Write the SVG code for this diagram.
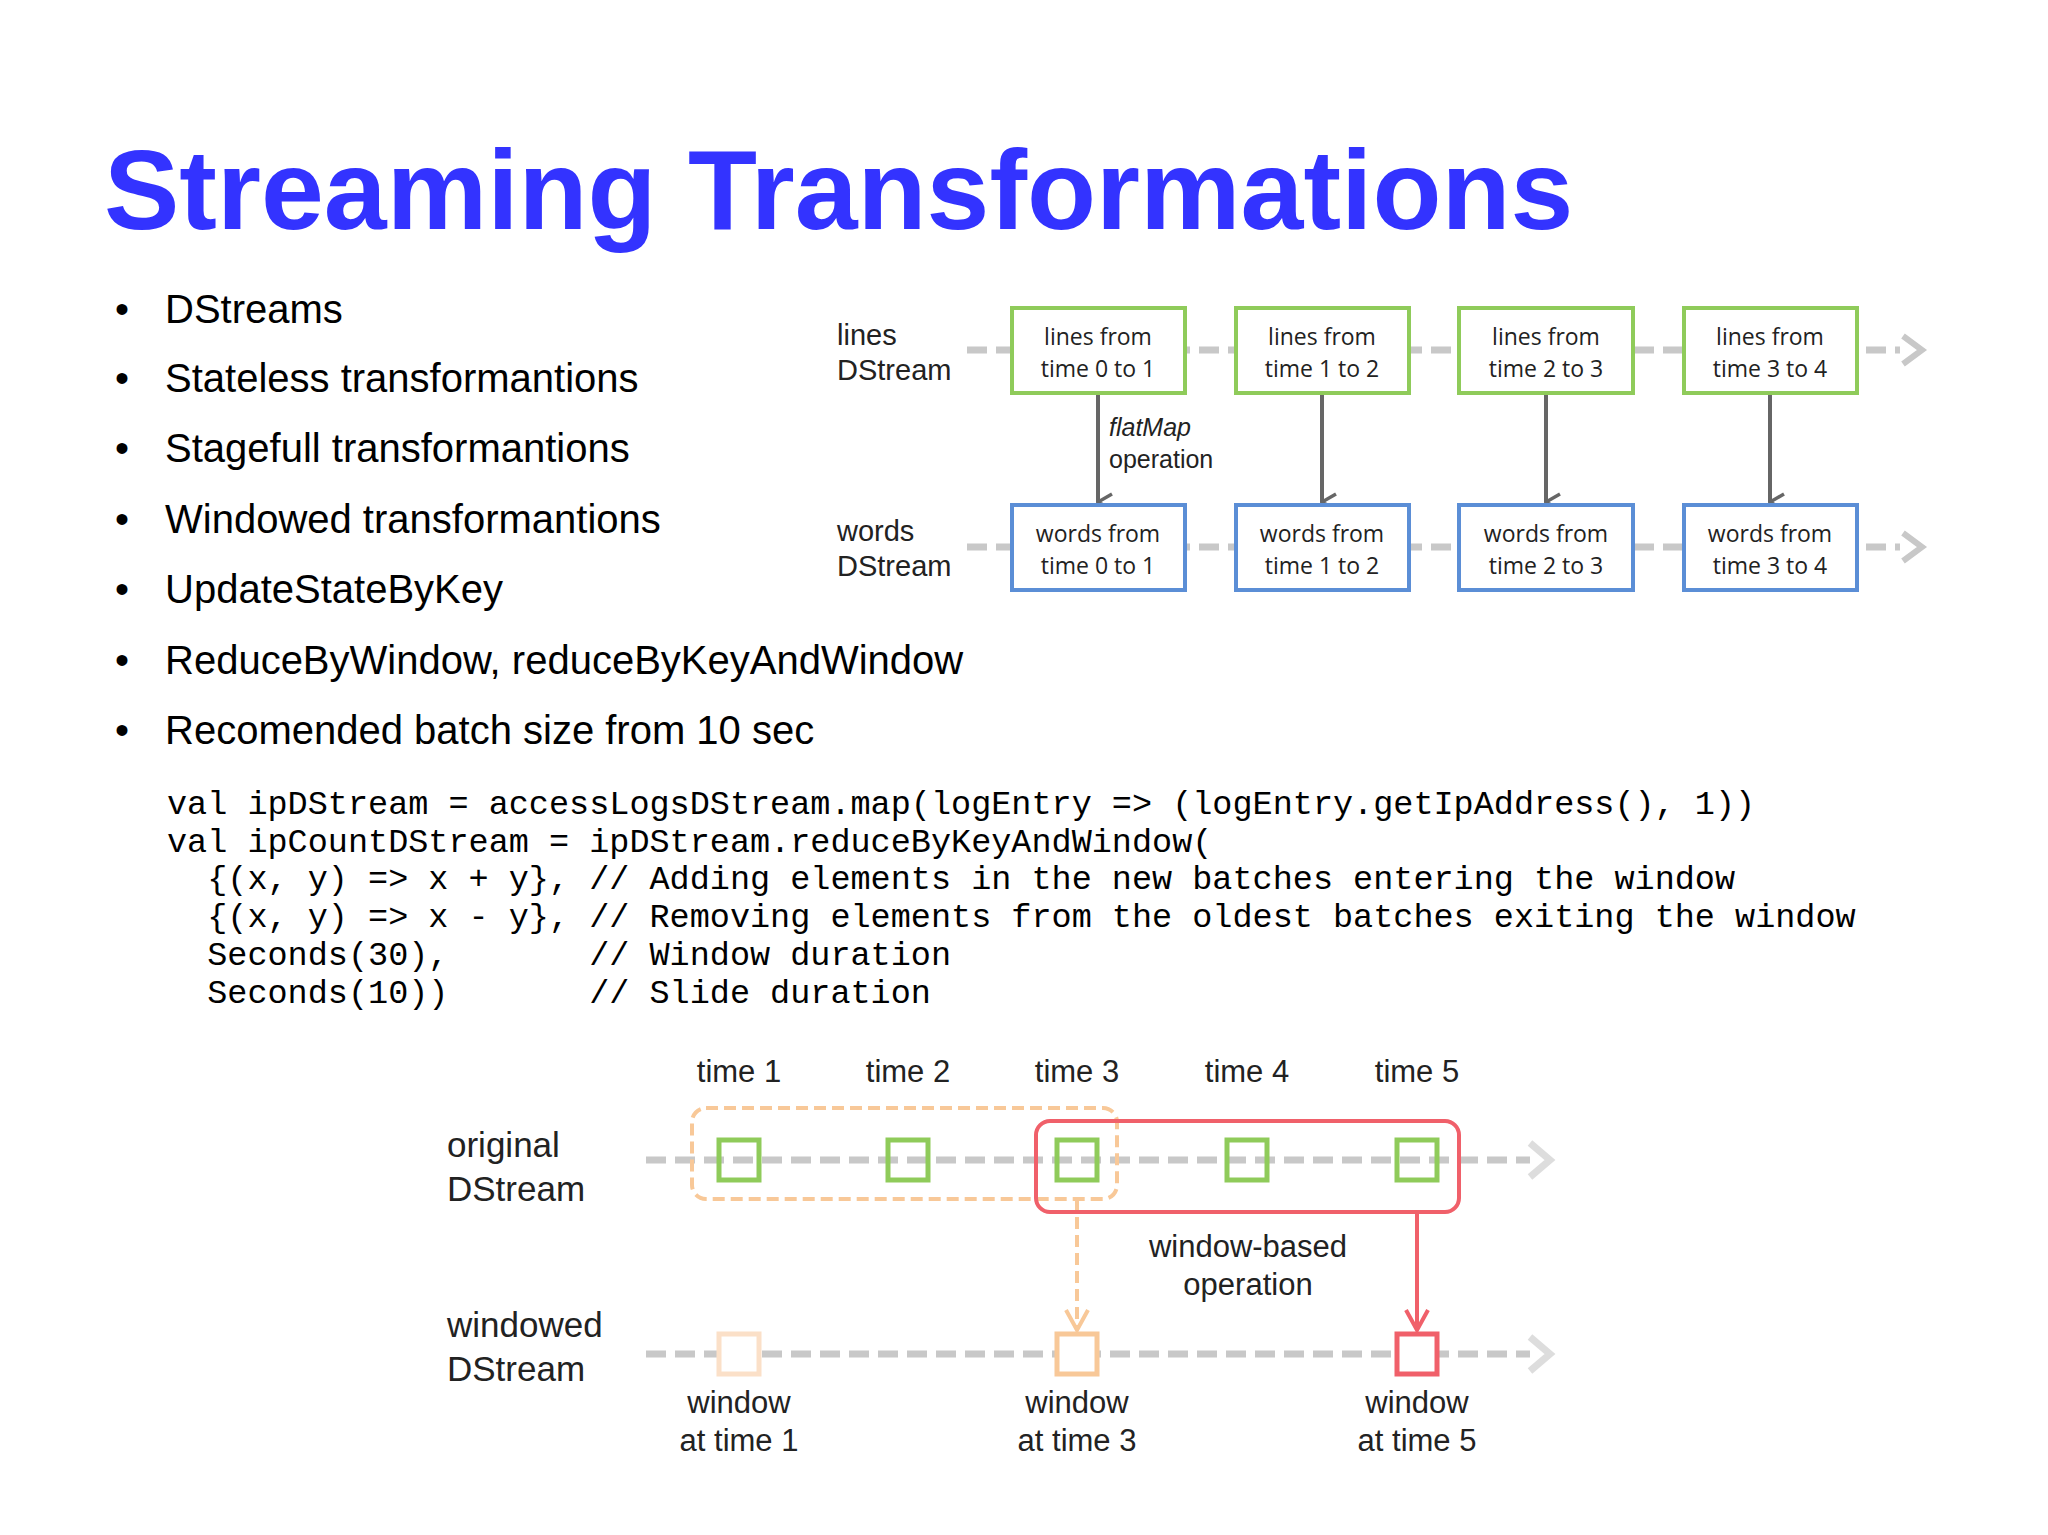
<svg xmlns="http://www.w3.org/2000/svg" width="2048" height="1535" viewBox="0 0 2048 1535">
<defs>
<style>
.t{font-family:"Liberation Sans",Arial,sans-serif;fill:#000}
.b{font-size:40px}
.c{font-family:"Liberation Mono","Courier New",monospace;font-size:33.5px;fill:#000;white-space:pre}
.d{font-family:"Open Sans","Liberation Sans",sans-serif;fill:#222}
.h{font-family:"Liberation Sans",Arial,sans-serif;fill:#222}
.bx{font-size:23px;text-anchor:middle}
.gl{stroke:#c8c8c8;stroke-width:7;stroke-dasharray:20 9;fill:none}
.gr{fill:#fff;stroke:#8fcb5a;stroke-width:4}
.bl{fill:#fff;stroke:#5b8ed6;stroke-width:4}
.ar{stroke:#666;stroke-width:4;fill:none}
.sq{fill:none;stroke:#8fcb5a;stroke-width:5}
</style>
<marker id="ah" markerWidth="20" markerHeight="20" refX="10" refY="18" orient="auto" markerUnits="userSpaceOnUse" viewBox="0 0 20 20"><path d="M2,4 L10,18 L18,4" fill="none" stroke="#666" stroke-width="3.5"/></marker>
</defs>
<rect width="2048" height="1535" fill="#fff"/>
<text x="104" y="229" font-family="Liberation Sans,Arial,sans-serif" font-weight="bold" font-size="113" fill="#3333ff">Streaming Transformations</text>
<g id="bullets" class="t b">
<text x="115" y="323">•</text><text x="165" y="323">DStreams</text>
<text x="115" y="392">•</text><text x="165" y="392">Stateless transformantions</text>
<text x="115" y="462">•</text><text x="165" y="462">Stagefull transformantions</text>
<text x="115" y="533">•</text><text x="165" y="533">Windowed transformantions</text>
<text x="115" y="603">•</text><text x="165" y="603">UpdateStateByKey</text>
<text x="115" y="674">•</text><text x="165" y="674">ReduceByWindow, reduceByKeyAndWindow</text>
<text x="115" y="744">•</text><text x="165" y="744">Recomended batch size from 10 sec</text>
</g>
<g id="code" class="c">
<text x="167" y="814" class="c">val ipDStream = accessLogsDStream.map(logEntry =&gt; (logEntry.getIpAddress(), 1))</text>
<text x="167" y="852" class="c">val ipCountDStream = ipDStream.reduceByKeyAndWindow(</text>
<text x="167" y="889" class="c">  {(x, y) =&gt; x + y}, // Adding elements in the new batches entering the window</text>
<text x="167" y="927" class="c">  {(x, y) =&gt; x - y}, // Removing elements from the oldest batches exiting the window</text>
<text x="167" y="965" class="c">  Seconds(30),       // Window duration</text>
<text x="167" y="1003" class="c">  Seconds(10))       // Slide duration</text>
</g>
<g id="connectors">
<path class="gl" d="M967,350 H1900"/>
<path d="M1903,336 L1922,350 L1903,364" fill="none" stroke="#c8c8c8" stroke-width="6"/>
<path class="gl" d="M967,547 H1900"/>
<path d="M1903,533 L1922,547 L1903,561" fill="none" stroke="#c8c8c8" stroke-width="6"/>
<path class="ar" d="M1098,393 V502" marker-end="url(#ah)"/>
<path class="ar" d="M1322,393 V502" marker-end="url(#ah)"/>
<path class="ar" d="M1546,393 V502" marker-end="url(#ah)"/>
<path class="ar" d="M1770,393 V502" marker-end="url(#ah)"/>
<path class="gl" d="M646,1160 H1530" stroke="#ddd"/>
<path d="M1530,1143 L1550,1160 L1530,1177" fill="none" stroke="#ddd" stroke-width="7"/>
<path class="gl" d="M646,1354 H1530" stroke="#ddd"/>
<path d="M1530,1337 L1550,1354 L1530,1371" fill="none" stroke="#ddd" stroke-width="7"/>
<path d="M1077,1199 V1328" stroke="#f8c898" stroke-width="4" stroke-dasharray="12 6" fill="none"/>
<path d="M1066,1310 L1077,1330 L1088,1310" stroke="#f8c898" stroke-width="4" fill="none"/>
<path d="M1417,1212 V1328" stroke="#f0606a" stroke-width="4" fill="none"/>
<path d="M1406,1310 L1417,1330 L1428,1310" stroke="#f0606a" stroke-width="4" fill="none"/>
</g>
<g id="labels-top" class="h" font-size="29">
<text x="837" y="345">lines</text><text x="837" y="380">DStream</text>
<text x="837" y="541">words</text><text x="837" y="576">DStream</text>
<text x="1109" y="436" font-size="25" font-style="italic">flatMap</text>
<text x="1109" y="468" font-size="25">operation</text>
</g>
<g id="l0"><rect class="gr" x="1012" y="308" width="173" height="85"/><text class="d bx" x="1098" y="345">lines from</text><text class="d bx" x="1098" y="377">time 0 to 1</text></g>
<g id="l1"><rect class="gr" x="1236" y="308" width="173" height="85"/><text class="d bx" x="1322" y="345">lines from</text><text class="d bx" x="1322" y="377">time 1 to 2</text></g>
<g id="l2"><rect class="gr" x="1459" y="308" width="174" height="85"/><text class="d bx" x="1546" y="345">lines from</text><text class="d bx" x="1546" y="377">time 2 to 3</text></g>
<g id="l3"><rect class="gr" x="1684" y="308" width="173" height="85"/><text class="d bx" x="1770" y="345">lines from</text><text class="d bx" x="1770" y="377">time 3 to 4</text></g>
<g id="w0"><rect class="bl" x="1012" y="505" width="173" height="85"/><text class="d bx" x="1098" y="542">words from</text><text class="d bx" x="1098" y="574">time 0 to 1</text></g>
<g id="w1"><rect class="bl" x="1236" y="505" width="173" height="85"/><text class="d bx" x="1322" y="542">words from</text><text class="d bx" x="1322" y="574">time 1 to 2</text></g>
<g id="w2"><rect class="bl" x="1459" y="505" width="174" height="85"/><text class="d bx" x="1546" y="542">words from</text><text class="d bx" x="1546" y="574">time 2 to 3</text></g>
<g id="w3"><rect class="bl" x="1684" y="505" width="173" height="85"/><text class="d bx" x="1770" y="542">words from</text><text class="d bx" x="1770" y="574">time 3 to 4</text></g>
<g id="bottom" class="h" font-size="31" text-anchor="middle">
<text x="739" y="1082">time 1</text><text x="908" y="1082">time 2</text><text x="1077" y="1082">time 3</text><text x="1247" y="1082">time 4</text><text x="1417" y="1082">time 5</text>
<text x="1248" y="1257">window-based</text><text x="1248" y="1295">operation</text>
<text x="739" y="1413">window</text><text x="739" y="1451">at time 1</text>
<text x="1077" y="1413">window</text><text x="1077" y="1451">at time 3</text>
<text x="1417" y="1413">window</text><text x="1417" y="1451">at time 5</text>
<text x="447" y="1157" text-anchor="start" font-size="35">original</text><text x="447" y="1201" text-anchor="start" font-size="35">DStream</text>
<text x="447" y="1337" text-anchor="start" font-size="35">windowed</text><text x="447" y="1381" text-anchor="start" font-size="35">DStream</text>
</g>
<g id="window1"><rect x="692" y="1108" width="425" height="91" rx="14" fill="none" stroke="#f8c898" stroke-width="4" stroke-dasharray="12 6"/></g>
<g id="window2"><rect x="1036" y="1121" width="423" height="91" rx="14" fill="none" stroke="#f0606a" stroke-width="4"/></g>
<g id="sq"><rect class="sq" x="719" y="1140" width="40" height="40"/><rect class="sq" x="888" y="1140" width="40" height="40"/><rect class="sq" x="1057" y="1140" width="40" height="40"/><rect class="sq" x="1227" y="1140" width="40" height="40"/><rect class="sq" x="1397" y="1140" width="40" height="40"/></g>
<g id="wsq">
<rect x="719" y="1334" width="40" height="40" fill="#fff" stroke="#fbe0c8" stroke-width="5"/>
<rect x="1057" y="1334" width="40" height="40" fill="#fff" stroke="#f8c898" stroke-width="5"/>
<rect x="1397" y="1334" width="40" height="40" fill="#fff" stroke="#f0606a" stroke-width="5"/>
</g>
</svg>
